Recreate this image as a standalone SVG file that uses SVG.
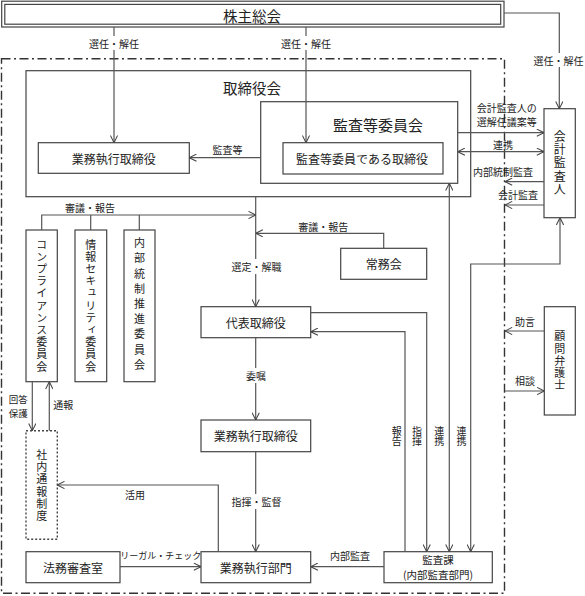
<svg xmlns="http://www.w3.org/2000/svg" width="585" height="596" viewBox="0 0 585 596">
<defs>
<marker id="ah" viewBox="0 0 10 10" refX="10" refY="5" markerWidth="8" markerHeight="8" markerUnits="userSpaceOnUse" orient="auto-start-reverse">
<path d="M1,0.5 L10,5 L1,9.5" fill="none" stroke="#444" stroke-width="1.3"/>
</marker>
<style>
text{font-family:"Noto Sans CJK JP","Noto Sans",sans-serif;fill:#222;text-anchor:middle;dominant-baseline:central}
.box{fill:#fff;stroke:#444;stroke-width:1.2}
.ln{fill:none;stroke:#555;stroke-width:1.2}
.ar{marker-end:url(#ah)}
.ar2{marker-start:url(#ah);marker-end:url(#ah)}
.bnd{fill:none;stroke:#333;stroke-width:1.4;stroke-dasharray:9 3.5 2 3.5}
.dot{fill:#fff;stroke:#444;stroke-width:1.4;stroke-dasharray:2 2}
.t{font-size:12px}
.tt{font-size:14.5px}
.s{font-size:10px}
.v{writing-mode:vertical-rl}
.bg{fill:#fff}
</style>
</defs>

<rect class="bnd" x="1.5" y="58.7" width="503" height="534.5"/>

<g id="kabunushi">
<rect class="box" x="1.7" y="1.2" width="502.3" height="25.8"/>
<rect class="box" x="4.8" y="4.4" width="495.9" height="19.8"/>
<text class="tt" x="252" y="15">株主総会</text>
</g>

<g id="torishimariyakukai">
<rect class="box" x="26" y="70.7" width="444.7" height="126"/>
<text class="tt" x="252" y="87">取締役会</text>
</g>

<g id="kansatouiinkai">
<rect class="box" x="260.7" y="101.7" width="197" height="81.6"/>
<text class="tt" x="378" y="124" style="font-size:15px">監査等委員会</text>
</g>

<g id="kansatouiin-torishimariyaku">
<rect class="box" x="283" y="142.7" width="160" height="31.3"/>
<text class="t" x="362" y="158.3">監査等委員である取締役</text>
</g>

<g id="gyoumu-torishimariyaku-top">
<rect class="box" x="38.3" y="142.7" width="151" height="30.6"/>
<text class="t" x="113.8" y="158">業務執行取締役</text>
</g>

<g id="kaikeikansanin">
<rect class="box" x="544" y="108.7" width="31.3" height="109"/>
<text class="t v" x="559.7" y="163.5" style="letter-spacing:1.2px">会計監査人</text>
</g>

<g id="joumukai">
<rect class="box" x="340.7" y="248.3" width="86" height="31"/>
<text class="t" x="383.7" y="263.8">常務会</text>
</g>

<g id="daihyou">
<rect class="box" x="201" y="306.7" width="109.7" height="31"/>
<text class="t" x="255.8" y="322.2">代表取締役</text>
</g>

<g id="compliance">
<rect class="box" x="26" y="230" width="31.3" height="151.7"/>
<text class="v" x="41.7" y="306" style="font-size:11px;letter-spacing:1.2px">コンプライアンス委員会</text>
</g>

<g id="security">
<rect class="box" x="75" y="230" width="31.7" height="151.7"/>
<text class="v" x="90.8" y="306" style="font-size:11px;letter-spacing:1.2px">情報セキュリティ委員会</text>
</g>

<g id="naibutousei">
<rect class="box" x="124" y="230" width="31" height="151.7"/>
<text class="v" x="139.5" y="306" style="font-size:11px;letter-spacing:4.2px">内部統制推進委員会</text>
</g>

<g id="komonbengoshi">
<rect class="box" x="544.3" y="306.7" width="31" height="108.3"/>
<text class="v" x="559.8" y="361" style="font-size:11px;letter-spacing:1.1px">顧問弁護士</text>
</g>

<g id="shanaitsuhou">
<rect class="dot" x="26" y="430.7" width="31.3" height="108.6"/>
<text class="v" x="41.7" y="486" style="font-size:11px;letter-spacing:1.3px">社内通報制度</text>
</g>

<g id="gyoumu-torishimariyaku">
<rect class="box" x="201" y="420" width="109.7" height="31.7"/>
<text class="t" x="255.8" y="435.8">業務執行取締役</text>
</g>

<g id="houmu">
<rect class="box" x="26" y="551.7" width="94" height="31"/>
<text class="t" x="73" y="567.2">法務審査室</text>
</g>

<g id="gyoumubumon">
<rect class="box" x="201" y="551.7" width="109.7" height="31"/>
<text class="t" x="255.8" y="567.2">業務執行部門</text>
</g>

<g id="kansaka">
<rect class="box" x="384" y="551.7" width="108.3" height="31"/>
<text x="438" y="559.6" style="font-size:10.5px">監査課</text>
<text x="438" y="574" style="font-size:10.5px">(内部監査部門)</text>
</g>

<g id="connectors">
<path class="ln ar" d="M114,27 V142.7"/>
<path class="ln ar" d="M306,27 V142.7"/>
<path class="ln ar" d="M504,13 H559.3 V108.7"/>
<path class="ln ar" d="M260.7,157.7 H189.3"/>
<path class="ln ar" d="M457.7,132.7 H544"/>
<path class="ln ar2" d="M457.7,151.7 H544"/>
<path class="ln ar" d="M544,181.7 H505"/>
<path class="ln ar" d="M544,205 H505"/>
<path class="ln ar" d="M255.7,196.7 V306.7"/>
<path class="ln ar" d="M41.7,230 V215 H255.7"/>
<path class="ln" d="M90.7,230 V215 M139.3,230 V215"/>
<path class="ln ar" d="M383.7,248.3 V233.3 H255.7"/>
<path class="ln ar" d="M255.7,337.7 V420"/>
<path class="ln ar" d="M255.7,451.7 V551.7"/>
<path class="ln ar" d="M405,551.7 V331.7 H310.7"/>
<path class="ln ar" d="M310.7,312.7 H426.7 V551.7"/>
<path class="ln ar2" d="M449.3,183.3 V551.7"/>
<path class="ln ar2" d="M470.7,551.7 V264 H560 V217.7"/>
<path class="ln ar" d="M218.3,551.7 V485 H57.3"/>
<path class="ln ar" d="M32.3,381.7 V430.7"/>
<path class="ln ar" d="M49.3,430.7 V381.7"/>
<path class="ln ar" d="M120,566.7 H201"/>
<path class="ln ar" d="M384,566.7 H310.7"/>
<path class="ln ar" d="M544.3,331 H505"/>
<path class="ln ar" d="M505,391 H544.3"/>
</g>

<g id="labels">
<rect class="bg" x="88" y="36" width="52" height="14"/>
<text class="s" x="114" y="43">選任・解任</text>
<rect class="bg" x="280" y="36" width="52" height="14"/>
<text class="s" x="306" y="43">選任・解任</text>
<rect class="bg" x="532" y="53" width="53" height="14"/>
<text class="s" x="558.5" y="60">選任・解任</text>
<text class="s" x="227.5" y="149">監査等</text>
<text class="s" x="506.7" y="107.3">会計監査人の</text>
<text class="s" x="506.7" y="121.7">選解任議案等</text>
<text class="s" x="503" y="144.3">連携</text>
<text class="s" x="503" y="171.7">内部統制監査</text>
<text class="s" x="518" y="194.3">会計監査</text>
<text class="s" x="90" y="207.3">審議・報告</text>
<text class="s" x="323.3" y="226">審議・報告</text>
<rect class="bg" x="229" y="259" width="54" height="15"/>
<text class="s" x="256.5" y="266.7">選定・解職</text>
<rect class="bg" x="243" y="368" width="26" height="15"/>
<text class="s" x="256" y="375">委嘱</text>
<rect class="bg" x="229" y="494" width="54" height="15"/>
<text class="s" x="256.5" y="501.7">指揮・監督</text>
<text class="s" x="135" y="494">活用</text>
<text x="160.8" y="555.7" style="font-size:9px">リーガル・チェック</text>
<text class="s" x="350" y="555">内部監査</text>
<text class="s" x="525" y="321">助言</text>
<text class="s" x="525" y="380">相談</text>
<text x="18.3" y="399.3" style="font-size:9.5px">回答</text>
<text x="18.3" y="413.2" style="font-size:9.5px">保護</text>
<text class="s" x="63.3" y="404.5">通報</text>
<text class="s v" x="396.7" y="436.7">報告</text>
<text class="s v" x="417" y="436.7">指揮</text>
<text class="s v" x="439.3" y="436.7">連携</text>
<text class="s v" x="461.6" y="436.7">連携</text>
</g>
</svg>
